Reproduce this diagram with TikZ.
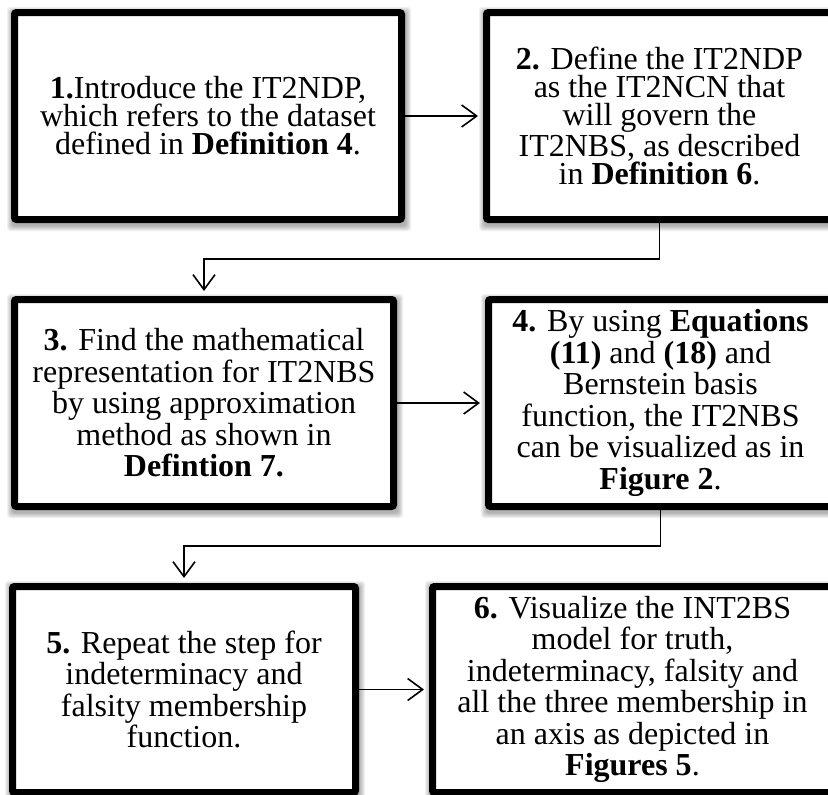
\documentclass[tikz,border=0pt]{standalone}
\usepackage{fontspec}
\setmainfont{Liberation Serif}
\usetikzlibrary{arrows.meta,backgrounds}
\begin{document}
\begin{tikzpicture}[x=1pt,y=-1pt,
  stepbox/.style={draw=black, line width=7pt, fill=white, rounded corners=2pt,
    align=center, inner sep=0pt, font=\fontsize{32}{31.5}\selectfont},
  rowone/.style={font=\fontsize{32}{28}\selectfont},
  conn/.style={line width=1.6pt, -{Straight Barb[length=15pt,width=22pt,line width=1.6pt]}, shorten >=5pt}]
\path[use as bounding box] (0,0) rectangle (828,795);
\clip (0,0) rectangle (828,795);

\node[stepbox, rowone, minimum width=387pt, minimum height=207pt] (b1) at (208,116)
  {\textbf{1.}Introduce the IT2NDP,\\ which refers to the dataset\\ defined in \textbf{Definition 4}.};
\node[stepbox, rowone, minimum width=346pt, minimum height=207pt] (b2) at (659.5,116)
  {\textbf{2.} Define the IT2NDP\\ as the IT2NCN that\\ will govern the\\ IT2NBS, as described\\ in \textbf{Definition 6}.};
\node[stepbox, minimum width=379pt, minimum height=207pt] (b3) at (204,403)
  {\textbf{3.} Find the mathematical\\ representation for IT2NBS\\ by using approximation\\ method as shown in\\ \textbf{Defintion 7.}};
\node[stepbox, minimum width=344pt, minimum height=207pt] (b4) at (660.5,403)
  {\textbf{4.} By using \textbf{Equations}\\ \textbf{(11)} and \textbf{(18)} and\\ Bernstein basis\\ function, the IT2NBS\\ can be visualized as in\\ \textbf{Figure 2}.};
\node[stepbox, minimum width=343pt, minimum height=206pt] (b5) at (184,689.5)
  {\textbf{5.} Repeat the step for\\ indeterminacy and\\ falsity membership\\ function.};
\node[stepbox, minimum width=400pt, minimum height=206pt] (b6) at (632.5,689.5)
  {\textbf{6.} Visualize the INT2BS\\ model for truth,\\ indeterminacy, falsity and\\ all the three membership in\\ an axis as depicted in\\ \textbf{Figures 5}.};

\begin{scope}[on background layer]
\foreach \n in {b1,b2,b3,b4,b5,b6}{
  \foreach \k in {0,...,5}{
    \fill[black, opacity=0.06, rounded corners=3pt]
      ([shift={(1-\k,3-\k)}]\n.north west) rectangle ([shift={(1+\k,3+\k)}]\n.south east);
  }}
\end{scope}

\draw[conn] (b1.east) -- (b2.west);
\draw[conn] (b2.south) -- ++(0,36) -| (b3.north);
\draw[conn] (b3.east) -- (b4.west);
\draw[conn] (b4.south) -- ++(0,36) -| (b5.north);
\draw[conn] (b5.east) -- (b6.west);
\end{tikzpicture}
\end{document}
